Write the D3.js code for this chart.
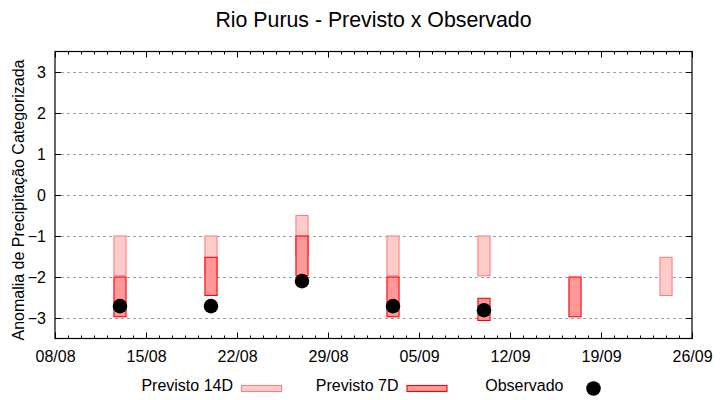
<!DOCTYPE html>
<html>
<head>
<meta charset="utf-8">
<script src="https://cdn.jsdelivr.net/npm/d3@7"></script>
<style>
  html, body { margin: 0; padding: 0; background: #fff; }
  svg { display: block; }
  text { font-family: "Liberation Sans", Arial, sans-serif; fill: #000; }
</style>
</head>
<body>
<svg id="chart" width="720" height="400"></svg>
<script>
// ---- data ----
const dates      = ["2024-08-13","2024-08-20","2024-08-27","2024-09-03","2024-09-10","2024-09-17","2024-09-24"];
const prev14Top  = [-1.00, -1.00, -0.50, -1.00, -1.00, null, -1.52];
const prev14Bot  = [-1.97, -1.97, -1.47, -1.97, -1.97, null, -2.45];
const prev7Top   = [-2.00, -1.52, -1.00, -2.00, -2.52, -2.00, null];
const prev7Bot   = [-2.97, -2.45, -1.97, -2.97, -3.06, -2.97, null];
const observado  = [-2.71, -2.71, -2.10, -2.71, -2.81, null, null];
const xStart = "2024-08-08", xEnd = "2024-09-26";
const yTicks = [-3, -2, -1, 0, 1, 2, 3];
const title = "Rio Purus - Previsto x Observado";
const yTitle = "Anomalia de Precipitação Categorizada";
const legendLabels = ["Previsto 14D", "Previsto 7D", "Observado"];

// ---- layout ----
const svg = d3.select("#chart");
const L = 55, R = 692, T = 51.5, B = 338.5;
const parse = d3.utcParse("%Y-%m-%d");
const fmt = d3.utcFormat("%d/%m");
const x = d3.scaleUtc().domain([parse(xStart), parse(xEnd)]).range([L, R]);
const y = d3.scaleLinear().domain([-3.5, 3.5]).range([B, T]);

const c14Fill = "#ffcccc", c14Stroke = "#ff7f7f";
const c7Fill = "#ff9999", c7Stroke = "#ff0000";

// grid
svg.append("g").selectAll("line").data(yTicks).join("line")
  .attr("x1", L).attr("x2", R)
  .attr("y1", d => Math.round(y(d)) + 0.5).attr("y2", d => Math.round(y(d)) + 0.5)
  .attr("stroke", "#a0a0a0").attr("stroke-width", 1).attr("stroke-dasharray", "3,3");

// x ticks
const major = d3.utcDay.range(parse(xStart), d3.utcDay.offset(parse(xEnd), 1), 7);
const minor = d3.utcDay.range(parse(xStart), d3.utcDay.offset(parse(xEnd), 1));

const xb = svg.append("g").attr("transform", `translate(0,${B})`)
  .call(d3.axisBottom(x).tickValues(major).tickFormat(fmt).tickSizeInner(-6).tickSizeOuter(0).tickPadding(12));
const xbm = svg.append("g").attr("transform", `translate(0,${B})`)
  .call(d3.axisBottom(x).tickValues(minor).tickFormat("").tickSizeInner(-3).tickSizeOuter(0));
const xt = svg.append("g").attr("transform", `translate(0,${T})`)
  .call(d3.axisTop(x).tickValues(major).tickFormat("").tickSizeInner(-6).tickSizeOuter(0));
const xtm = svg.append("g").attr("transform", `translate(0,${T})`)
  .call(d3.axisTop(x).tickValues(minor).tickFormat("").tickSizeInner(-3).tickSizeOuter(0));
const yl = svg.append("g").attr("transform", `translate(${L},0)`)
  .call(d3.axisLeft(y).tickValues(yTicks).tickFormat(d3.format("d")).tickSizeInner(-6).tickSizeOuter(0).tickPadding(9));
const yr = svg.append("g").attr("transform", `translate(${R},0)`)
  .call(d3.axisRight(y).tickValues(yTicks).tickFormat("").tickSizeInner(-6).tickSizeOuter(0));

[xb, xbm, xt, xtm, yl, yr].forEach(g => {
  g.select(".domain").remove();
  g.selectAll("line").attr("stroke", "#000");
  g.selectAll("text").attr("font-size", 16).attr("font-family", '"Liberation Sans", Arial, sans-serif').attr("fill", "#000");
});
yl.selectAll("text").attr("dy", "0.36em");
xb.selectAll("text").attr("dy", "0.71em");

// bars
const dayW = x(d3.utcDay.offset(parse(xStart), 1)) - x(parse(xStart));
const bw = dayW * 0.93;
const rows = dates.map((d, i) => ({
  date: parse(d), t14: prev14Top[i], b14: prev14Bot[i], t7: prev7Top[i], b7: prev7Bot[i], obs: observado[i]
}));

svg.append("g").selectAll("rect").data(rows.filter(r => r.t14 != null)).join("rect")
  .attr("x", r => x(r.date) - bw / 2)
  .attr("width", bw)
  .attr("y", r => y(r.t14))
  .attr("height", r => y(r.b14) - y(r.t14))
  .attr("fill", c14Fill).attr("stroke", c14Stroke).attr("stroke-width", 1.1);

svg.append("g").selectAll("rect").data(rows.filter(r => r.t7 != null)).join("rect")
  .attr("x", r => x(r.date) - bw / 2)
  .attr("width", bw)
  .attr("y", r => y(r.t7))
  .attr("height", r => y(r.b7) - y(r.t7))
  .attr("fill", c7Fill).attr("stroke", c7Stroke).attr("stroke-width", 1.1);

// observed
svg.append("g").selectAll("circle").data(rows.filter(r => r.obs != null)).join("circle")
  .attr("cx", r => x(r.date))
  .attr("cy", r => y(r.obs))
  .attr("r", 7.3)
  .attr("fill", "#000");

// frame
svg.append("rect").attr("x", L).attr("y", T).attr("width", R - L).attr("height", B - T)
  .attr("fill", "none").attr("stroke", "#000").attr("stroke-width", 1.2);

// title
svg.append("text").attr("x", (L + R) / 2).attr("y", 27).attr("text-anchor", "middle")
  .attr("font-size", 21.3).text(title);

// y title
svg.append("text").attr("transform", `translate(24,200) rotate(-90)`).attr("text-anchor", "middle")
  .attr("font-size", 16).text(yTitle);

// legend
const legEnds = [233, 398.5, 563.5];
const leg = svg.append("g");
legendLabels.forEach((lab, i) => {
  leg.append("text").attr("x", legEnds[i]).attr("y", 391).attr("text-anchor", "end")
    .attr("font-size", 16).text(lab);
});
leg.append("rect").attr("x", legEnds[0] + 8.5).attr("y", 385.5).attr("width", 40).attr("height", 6)
  .attr("fill", c14Fill).attr("stroke", c14Stroke).attr("stroke-width", 1.1);
leg.append("rect").attr("x", legEnds[1] + 8.5).attr("y", 385.5).attr("width", 40).attr("height", 6)
  .attr("fill", c7Fill).attr("stroke", c7Stroke).attr("stroke-width", 1.1);
leg.append("circle").attr("cx", legEnds[2] + 30).attr("cy", 388.5).attr("r", 7.3).attr("fill", "#000");
</script>
</body>
</html>
